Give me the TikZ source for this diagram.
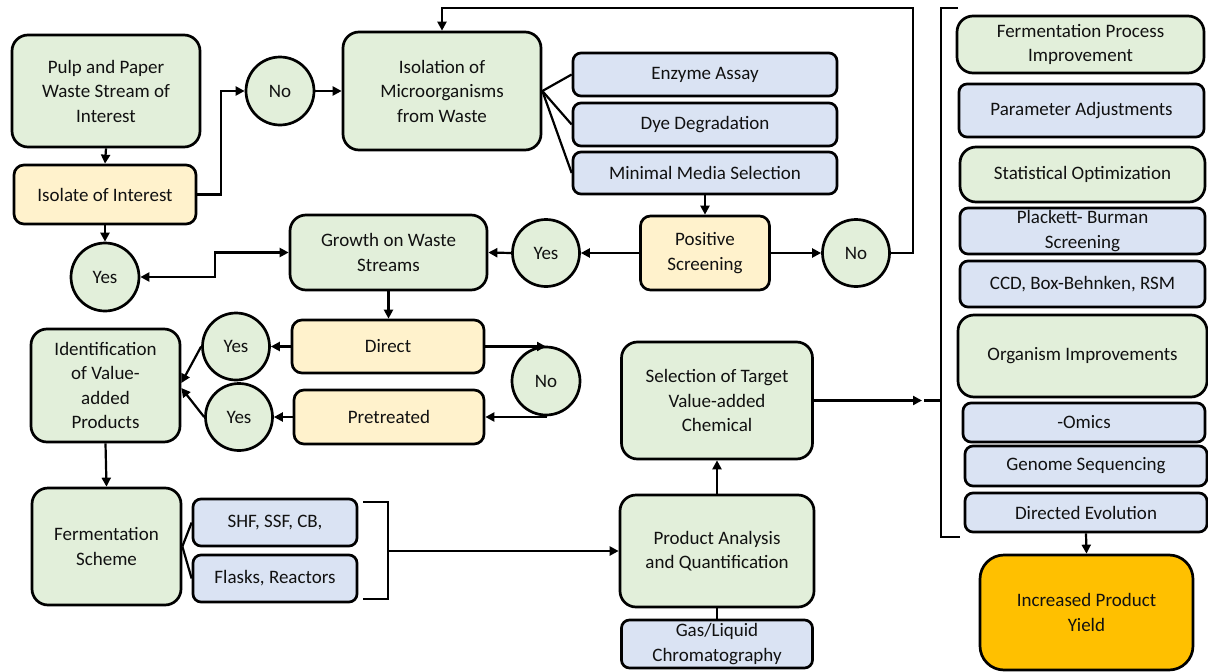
\documentclass[tikz,border=0pt]{standalone}
\usepackage{fontspec}
\setmainfont{Carlito}
\usetikzlibrary{arrows.meta}

\definecolor{gfill}{HTML}{E2EFDA}
\definecolor{bfill}{HTML}{DAE3F3}
\definecolor{yfill}{HTML}{FFF2CC}
\definecolor{ofill}{HTML}{FFC000}
\definecolor{ink}{HTML}{111111}

\tikzset{
  base/.style={draw=black, line width=2.7pt, align=center, inner sep=0pt,
    text=ink, font=\fontsize{19}{24.5}\selectfont},
  gbox/.style={base, fill=gfill, rounded corners=16pt},
  bbox/.style={base, fill=bfill, rounded corners=8pt},
  ybox/.style={base, fill=yfill, rounded corners=10pt},
  obox/.style={base, fill=ofill, rounded corners=24pt},
  circ/.style={base, circle, fill=gfill, minimum size=#1},
  circ/.default=67pt,
  conn/.style={line width=2.2pt, -{Triangle[length=9pt,width=9pt]}},
  twoway/.style={line width=2.2pt, {Triangle[length=9pt,width=9pt]}-{Triangle[length=9pt,width=9pt]}},
  link/.style={line width=2.2pt},
  sz/.style 2 args={minimum width=#1pt, minimum height=#2pt}
}

\begin{document}
\begin{tikzpicture}[x=1pt, y=-1pt]
\useasboundingbox (0,0) rectangle (1208,672);

% --- screening loop (top left) ---
\node[gbox, sz={188}{112}] (pulp) at (106,91) {Pulp and Paper\\Waste Stream of\\Interest};
\node[ybox, sz={182}{59}] (isolate) at (105,194.5) {Isolate of Interest};
\node[circ=68pt] (yesA) at (105,277) {Yes};
\node[circ=68pt] (noA) at (280,91) {No};
\node[gbox, sz={198}{118}] (isol) at (442,91) {Isolation of\\Microorganisms\\from Waste};
\node[bbox, sz={264}{43}] (enz) at (705,74.5) {Enzyme Assay};
\node[bbox, sz={264}{43}] (dye) at (705,124.5) {Dye Degradation};
\node[bbox, sz={264}{42}] (mms) at (705,173) {Minimal Media Selection};
\node[ybox, sz={129}{74}] (pos) at (705,253) {Positive\\Screening};
\node[circ] (yesB) at (546,253) {Yes};
\node[circ] (noB) at (856,253) {No};
\node[gbox, sz={197}{75}] (growth) at (388.5,252.5) {Growth on Waste\\Streams};

% --- growth branches ---
\node[ybox, sz={192}{53}] (direct) at (388,346.5) {Direct};
\node[ybox, sz={190}{54}] (pretr) at (389,417) {Pretreated};
\node[circ] (yesC) at (236,346.5) {Yes};
\node[circ] (yesD) at (239,417) {Yes};
\node[circ=68pt] (noC) at (546,381) {No};
\node[gbox, sz={149}{113}] (ident) at (105.5,385.5) {Identification\\of Value-\\added\\Products};

% --- fermentation and analysis ---
\node[gbox, sz={149}{117}] (ferm) at (106.5,546.5) {Fermentation\\Scheme};
\node[bbox, sz={164}{47}] (shf) at (275,522.5) {SHF, SSF, CB,};
\node[bbox, sz={164}{47}] (flask) at (275,578.5) {Flasks, Reactors};
\node[gbox, sz={194}{112}] (prod) at (717,551) {Product Analysis\\and Quantification};
\node[bbox, sz={191}{48}] (gas) at (717,644) {Gas/Liquid\\Chromatography};
\node[gbox, sz={191}{117}] (sel) at (717,400.5) {Selection of Target\\Value-added\\Chemical};

% --- improvement column ---
\node[gbox, sz={247}{57}] (fpi) at (1080.5,44.5) {Fermentation Process\\Improvement};
\node[bbox, sz={245}{53}] (par) at (1081.5,110.5) {Parameter Adjustments};
\node[gbox, sz={245}{55}] (stat) at (1082.5,174.5) {Statistical Optimization};
\node[bbox, sz={245}{46}] (pb) at (1082.5,231) {Plackett- Burman\\[0.5pt]Screening};
\node[bbox, sz={245}{46}] (ccd) at (1082.5,284) {CCD, Box-Behnken, RSM};
\node[gbox, sz={249}{82}] (org) at (1082.5,356) {Organism Improvements};
\node[bbox, sz={242}{39}] (omics) at (1084,422.5) {-Omics};
\node[bbox, sz={242}{40}] (genome) at (1086,466) {Genome Sequencing};
\node[bbox, sz={242}{39}] (direv) at (1086,512.5) {Directed Evolution};
\node[obox, sz={213}{115}] (incr) at (1086.5,612.5) {Increased Product\\Yield};

% --- helper points ---
\coordinate (loopTR) at (913,8);
\coordinate (jog) at (215,277);
\coordinate (brTop) at (363,502);
\coordinate (brTopC) at (388,502);
\coordinate (brBotC) at (388,599);
\coordinate (brBot) at (363,599);
\coordinate (brMid) at (388,551);
\coordinate (selTip) at (922,400.5);
\coordinate (selTail) at (924,400.5);
\coordinate (rbMid) at (941,400.5);
\coordinate (rbTopEnd) at (958,8);
\coordinate (rbTop) at (941,8);
\coordinate (rbBot) at (941,537);
\coordinate (rbBotEnd) at (960,537);

% --- connectors ---
\draw[conn] (pulp.south) -- (isolate.north);
\draw[conn] (isolate.south) -- (yesA.north);
\draw[conn] (isolate.east) -- ++(24,0) |- (noA.west);
\draw[conn] (noA.east) -- (isol.west);
\draw[link] (isol.east) -- (enz.west);
\draw[link] (isol.east) -- (dye.west);
\draw[link] (isol.east) -- (mms.west);
\draw[conn] (mms.south) -- (pos.north);
\draw[conn] (pos.west) -- (yesB.east);
\draw[conn] (yesB.west) -- (growth.east);
\draw[conn] (pos.east) -- (noB.west);
\draw[conn] (noB.east) -| (loopTR) -| (isol.north);
\draw[twoway] (yesA.east) -- (jog) |- (growth.west);
\draw[conn] (growth.south) -- (growth.south |- direct.north);
\draw[conn] (direct.west) -- (yesC.east);
\draw[conn] (pretr.west) -- (yesD.east);
\draw[conn] (direct.east) -- (direct.east -| noC.north);
\draw[conn] (noC.south) |- (pretr.east);
\draw[conn] (yesC.west) -- ([yshift=2.5pt]ident.east);
\draw[conn] (yesD.west) -- ([yshift=-2.5pt]ident.east);
\draw[conn] (ident.south) -- (ferm.north);
\draw[link] (ferm.east) -- (shf.west);
\draw[link] (ferm.east) -- (flask.west);
\draw[link] (brTop) -- (brTopC) -- (brBotC) -- (brBot);
\draw[conn] (brMid) -- (brMid -| prod.west);
\draw[link] (prod.south) -- (gas.north);
\draw[conn] (prod.north) -- (sel.south);
\draw[conn] (sel.east) -- (selTip);
\draw[link] (selTail) -- (rbMid);
\draw[link] (rbTopEnd) -- (rbTop) -- (rbBot) -- (rbBotEnd);
\draw[conn] (direv.south) -- (incr.north);
\end{tikzpicture}
\end{document}
